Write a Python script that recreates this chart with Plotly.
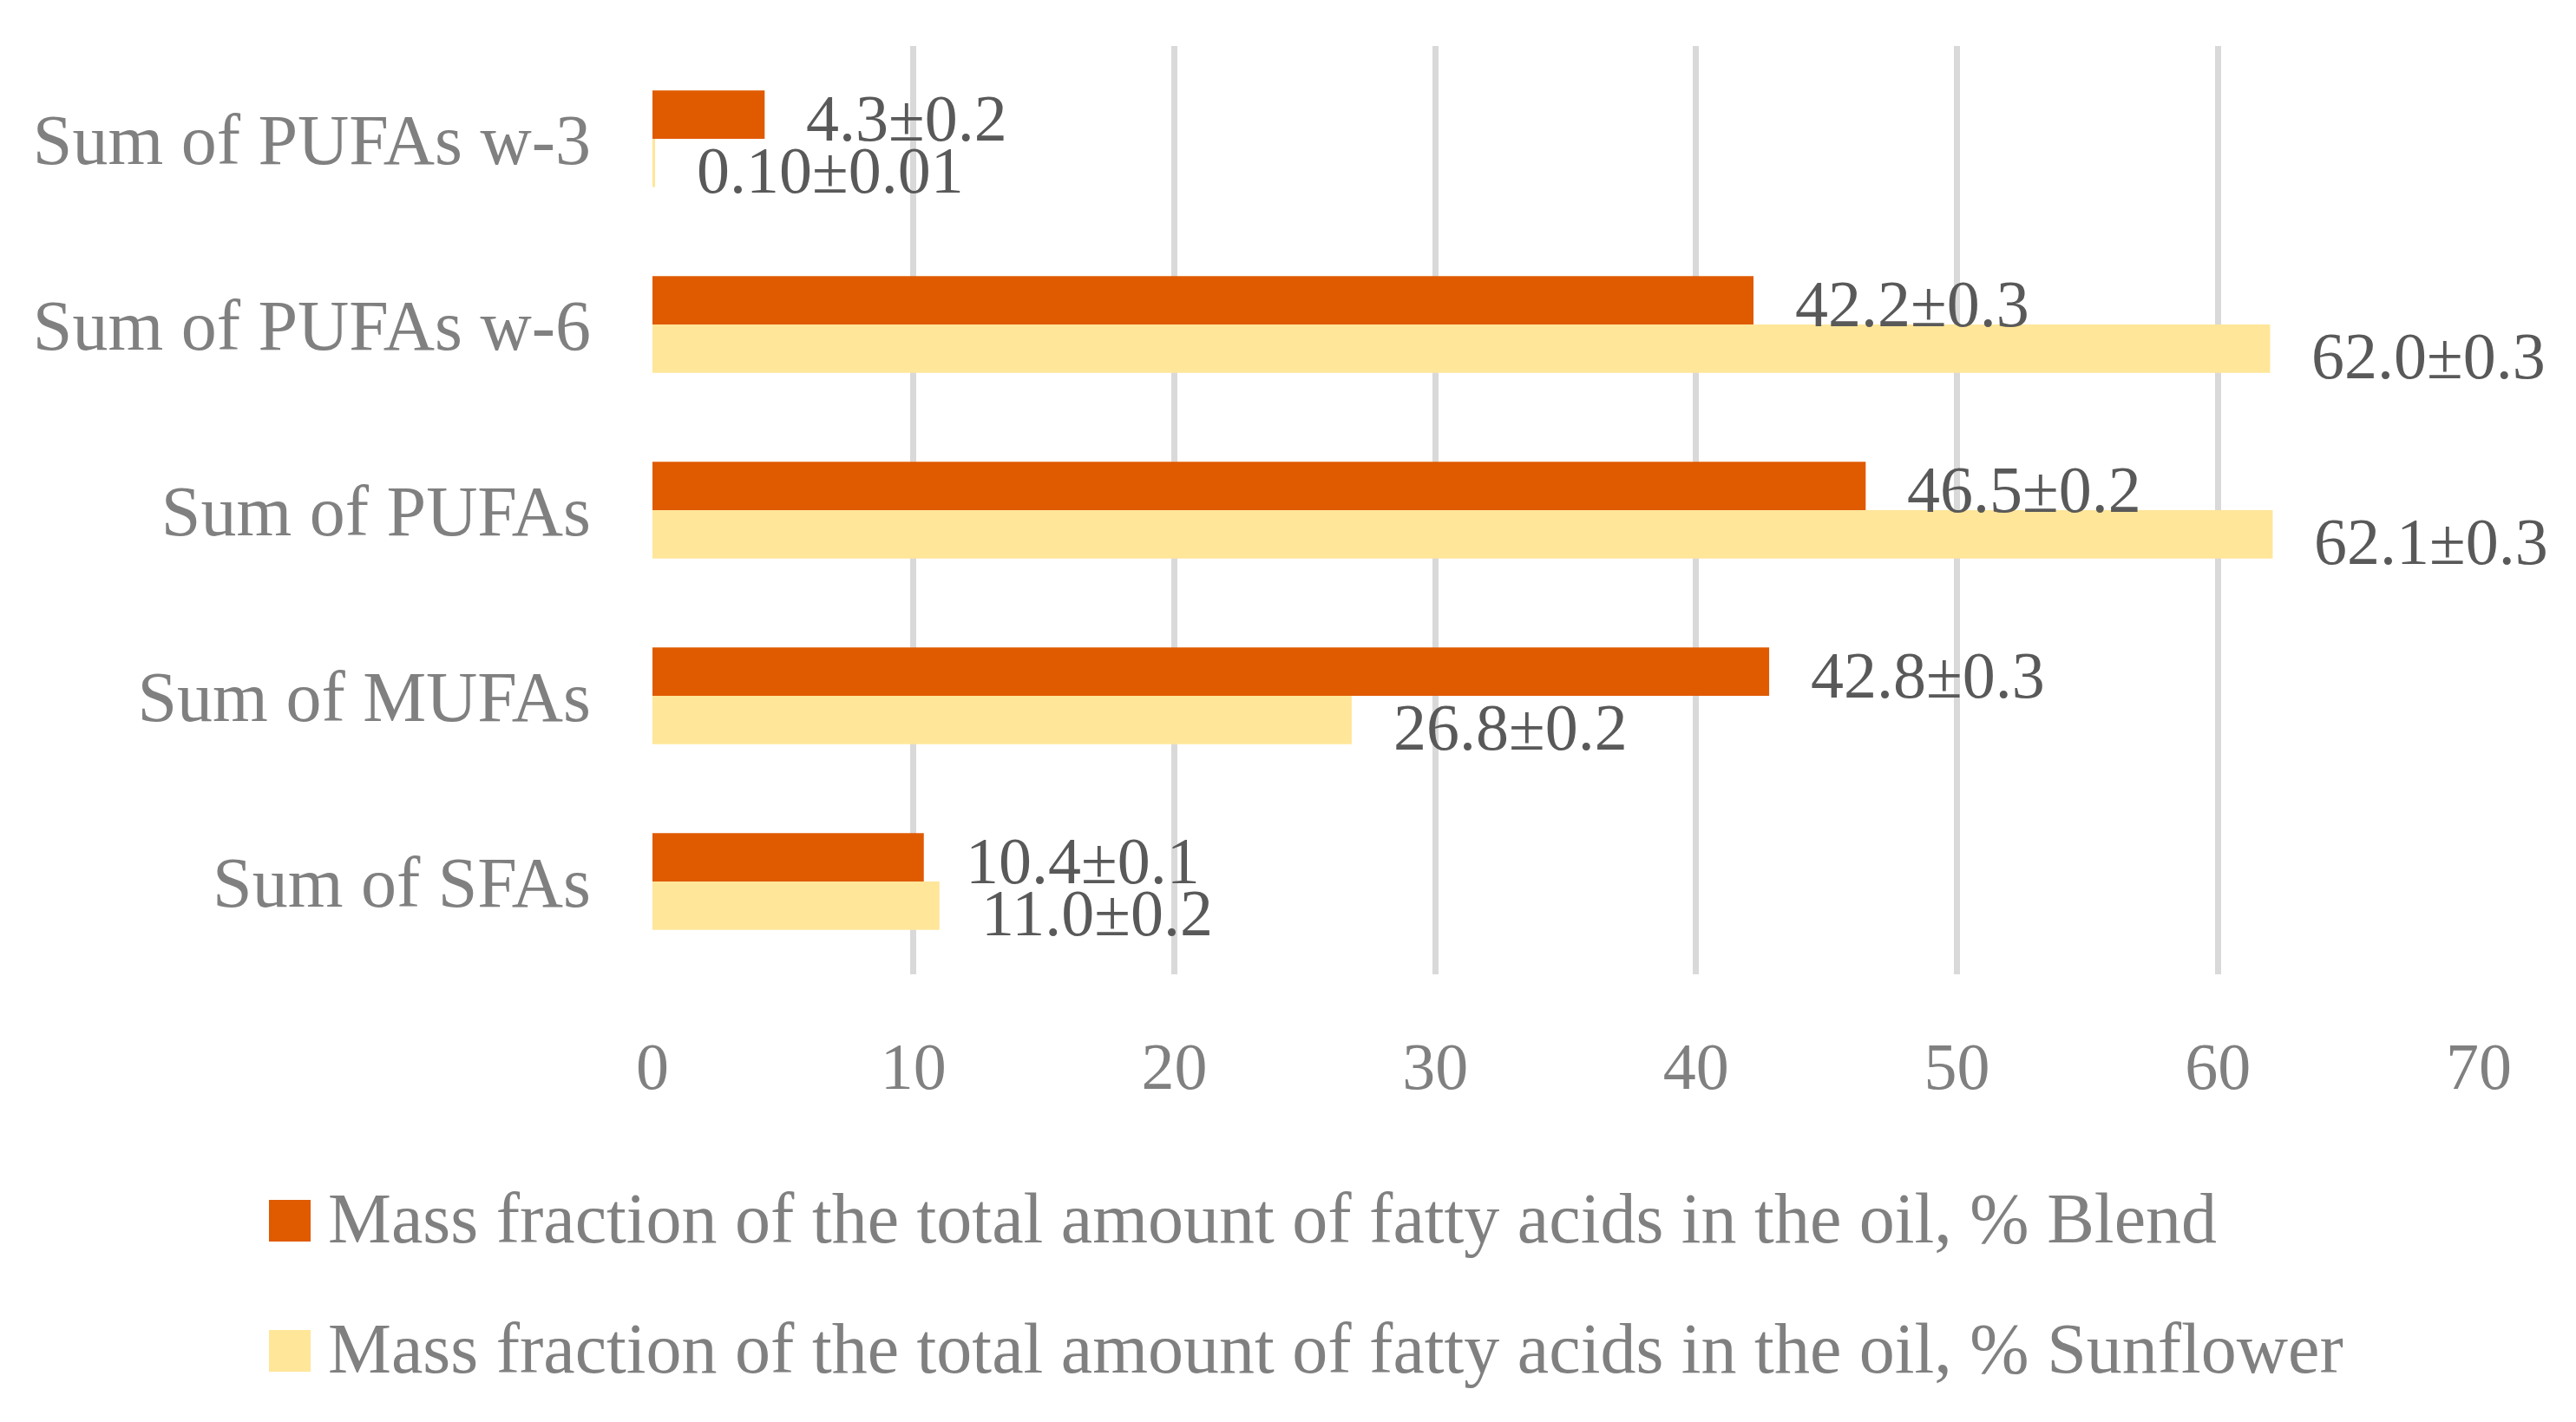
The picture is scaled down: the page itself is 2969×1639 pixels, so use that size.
import plotly.graph_objects as go

categories = ["Sum of PUFAs w-3", "Sum of PUFAs w-6", "Sum of PUFAs", "Sum of MUFAs", "Sum of SFAs"]
blend_values = [4.3, 42.2, 46.5, 42.8, 10.4]
blend_labels = ["4.3±0.2", "42.2±0.3", "46.5±0.2", "42.8±0.3", "10.4±0.1"]
sunflower_values = [0.10, 62.0, 62.1, 26.8, 11.0]
sunflower_labels = ["0.10±0.01", "62.0±0.3", "62.1±0.3", "26.8±0.2", "11.0±0.2"]
series_names = [
    "Mass fraction of the total amount of fatty acids in the oil, % Blend",
    "Mass fraction of the total amount of fatty acids in the oil, % Sunflower",
]
x_ticks = [0, 10, 20, 30, 40, 50, 60, 70]

FONT = "Liberation Serif"
ORANGE = "#E05A00"
YELLOW = "#FFE699"
COLORS = [ORANGE, YELLOW]

W, H = 2969, 1639
ML, MR, MT, MB = 752, 112, 53, 516
PW, PH = W - ML - MR, H - MT - MB


def px_x(px):
    return (px - ML) / PW


def px_y(py):
    return (H - MB - py) / PH


fig = go.Figure()
fig.add_trace(go.Bar(y=categories, x=blend_values, orientation="h", name=series_names[0],
                     marker=dict(color=ORANGE, line=dict(width=0)), hoverinfo="x"))
fig.add_trace(go.Bar(y=categories, x=sunflower_values, orientation="h", name=series_names[1],
                     marker=dict(color=YELLOW, line=dict(width=0)), hoverinfo="x"))

annotations = []
for cat, v, lab in zip(categories, blend_values, blend_labels):
    annotations.append(dict(x=v, y=cat, text=lab, showarrow=False, xanchor="left", yanchor="middle",
                            xshift=46, yshift=24, font=dict(family=FONT, size=76, color="#595959")))
for cat, v, lab in zip(categories, sunflower_values, sunflower_labels):
    annotations.append(dict(x=v, y=cat, text=lab, showarrow=False, xanchor="left", yanchor="middle",
                            xshift=46, yshift=-36, font=dict(family=FONT, size=76, color="#595959")))

# manual legend (large swatches like the reference)
shapes = []
legend_rows = [1407, 1557]
for name, color, cy in zip(series_names, COLORS, legend_rows):
    shapes.append(dict(type="rect", xref="paper", yref="paper",
                       x0=px_x(310), x1=px_x(358), y0=px_y(cy - 24), y1=px_y(cy + 24),
                       fillcolor=color, line=dict(width=0)))
    annotations.append(dict(xref="paper", yref="paper", x=px_x(376), y=px_y(cy - 3), text=name,
                            showarrow=False, xanchor="left", yanchor="middle",
                            font=dict(family=FONT, size=82, color="#808080")))

fig.update_layout(
    width=W, height=H,
    margin=dict(l=ML, r=MR, t=MT, b=MB),
    paper_bgcolor="white", plot_bgcolor="white",
    barmode="group", bargap=0.48, bargroupgap=0,
    font=dict(family=FONT, size=80, color="#808080"),
    annotations=annotations,
    shapes=shapes,
    showlegend=False,
    xaxis=dict(range=[0, 70], tickvals=x_ticks, showgrid=True, gridcolor="#D9D9D9", gridwidth=7,
               zeroline=False, showline=False, ticks="", ticklabelstandoff=55,
               tickfont=dict(family=FONT, size=76, color="#808080"), fixedrange=True),
    yaxis=dict(categoryorder="array", categoryarray=categories, autorange="reversed",
               showgrid=False, zeroline=False, showline=False, ticks="", ticklabelstandoff=70,
               tickfont=dict(family=FONT, size=82, color="#808080"), fixedrange=True),
)

fig.write_html("out.html", config={"displayModeBar": False})
